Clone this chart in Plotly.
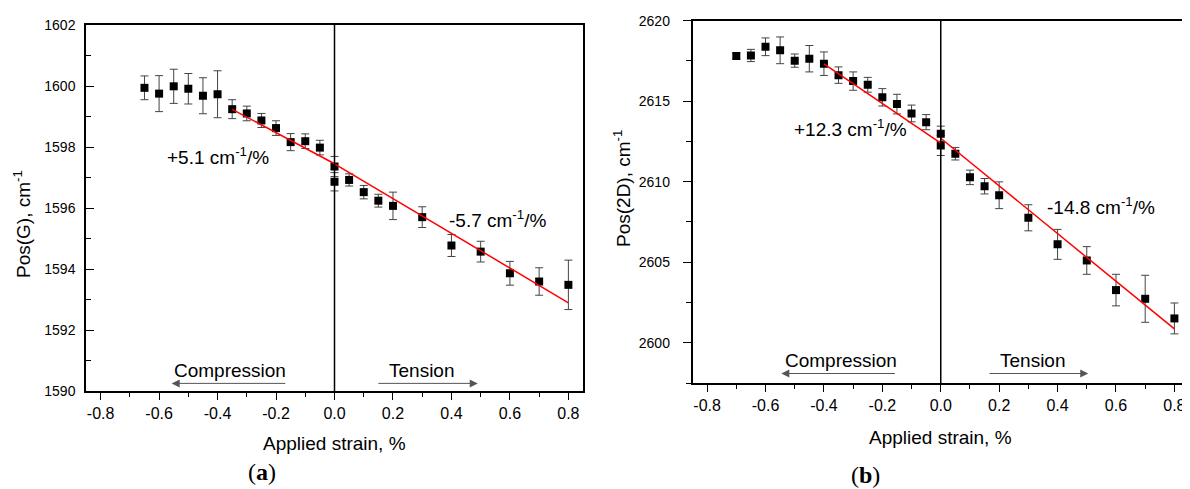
import plotly.graph_objects as go

# ---------------- data ----------------
strain_G = [-0.65, -0.60, -0.55, -0.50, -0.45, -0.40, -0.35, -0.30, -0.25, -0.20,
            -0.15, -0.10, -0.05, 0.0, 0.0, 0.05, 0.10, 0.15, 0.20, 0.30,
            0.40, 0.50, 0.60, 0.70, 0.80]
pos_G = [1599.94, 1599.75, 1599.99, 1599.91, 1599.68, 1599.73, 1599.24, 1599.10, 1598.87, 1598.62,
         1598.16, 1598.19, 1597.98, 1597.36, 1596.86, 1596.92, 1596.52, 1596.24, 1596.07, 1595.70,
         1594.77, 1594.57, 1593.86, 1593.59, 1593.48]
err_G = [0.39, 0.59, 0.56, 0.50, 0.59, 0.77, 0.31, 0.24, 0.23, 0.24,
         0.28, 0.24, 0.24, 0.33, 0.30, 0.20, 0.22, 0.21, 0.45, 0.34,
         0.36, 0.34, 0.39, 0.45, 0.81]

strain_2D = [-0.70, -0.65, -0.60, -0.55, -0.50, -0.45, -0.40, -0.35, -0.30, -0.25,
             -0.20, -0.15, -0.10, -0.05, 0.0, 0.0, 0.05, 0.10, 0.15, 0.20,
             0.30, 0.40, 0.50, 0.60, 0.70, 0.80]
pos_2D = [2617.80, 2617.84, 2618.38, 2618.16, 2617.52, 2617.64, 2617.33, 2616.62, 2616.25, 2616.02,
          2615.24, 2614.82, 2614.24, 2613.70, 2612.98, 2612.25, 2611.74, 2610.27, 2609.72, 2609.16,
          2607.76, 2606.11, 2605.11, 2603.27, 2602.73, 2601.51]
err_2D = [0.20, 0.38, 0.55, 0.83, 0.41, 0.82, 0.73, 0.51, 0.57, 0.46,
          0.54, 0.61, 0.52, 0.47, 0.47, 0.62, 0.39, 0.45, 0.48, 0.83,
          0.81, 0.93, 0.86, 0.98, 1.46, 0.96]

# linear fits: (x start, x end, intercept, slope)
fits_G = [(-0.35, 0.0, 1597.45, -5.1), (0.0, 0.80, 1597.45, -5.7)]
fits_2D = [(-0.40, 0.0, 2612.40, -12.3), (0.0, 0.80, 2612.70, -14.8)]
slope_labels_G = ["+5.1 cm<sup>-1</sup>/%", "-5.7 cm<sup>-1</sup>/%"]
slope_labels_2D = ["+12.3 cm<sup>-1</sup>/%", "-14.8 cm<sup>-1</sup>/%"]

xtick_vals = [-0.8, -0.6, -0.4, -0.2, 0.0, 0.2, 0.4, 0.6, 0.8]
xtick_text = ["-0.8", "-0.6", "-0.4", "-0.2", "0.0", "0.2", "0.4", "0.6", "0.8"]

FONT = "Liberation Sans, Arial, sans-serif"
SERIF = "Liberation Serif, Times New Roman, serif"
W, H = 1190, 489
OFF = 8  # page body margin offset compensation (px)


def px(v):
    return (v - OFF) / W


def py(v):
    return 1 - (v - OFF) / H


fig = go.Figure()


def add_panel(xs, ys, errs, fits, xa, ya):
    fig.add_trace(go.Scatter(
        x=xs, y=ys, mode="markers", xaxis=xa, yaxis=ya, showlegend=False,
        marker=dict(symbol="square", size=8, color="black"),
        error_y=dict(type="data", array=errs, visible=True, color="#444444",
                     thickness=1, width=4)))
    for x0, x1, b, m in fits:
        fig.add_trace(go.Scatter(
            x=[x0, x1], y=[b + m * x0, b + m * x1], mode="lines",
            xaxis=xa, yaxis=ya, showlegend=False,
            line=dict(color="#ff0000", width=1.5)))


add_panel(strain_G, pos_G, err_G, fits_G, "x", "y")
add_panel(strain_2D, pos_2D, err_2D, fits_2D, "x2", "y2")

xcommon = dict(range=[-0.85, 0.85], tickvals=xtick_vals, ticktext=xtick_text,
               ticks="outside", ticklen=7, tickwidth=1, tickcolor="black",
               minor=dict(dtick=0.1, ticks="outside", ticklen=4, tickcolor="black"),
               showline=True, mirror=True, linecolor="black", linewidth=1.5,
               showgrid=False, zeroline=False, automargin=False,
               tickfont=dict(family=FONT, size=16, color="black"))

fig.update_layout(
    width=W, height=H, autosize=False,
    margin=dict(l=0, r=0, t=0, b=0, pad=0, autoexpand=False),
    showlegend=False,
    paper_bgcolor="white", plot_bgcolor="white",
    font=dict(family=FONT, color="black"),
    xaxis=dict(domain=[px(86), px(583)], anchor="y", **xcommon),
    xaxis2=dict(domain=[px(692.5), px(1189)], anchor="y2", **xcommon),
    yaxis=dict(domain=[py(391), py(25)], anchor="x", range=[1590, 1602],
               dtick=2, ticks="inside", ticklen=8, tickwidth=1, tickcolor="black",
               minor=dict(dtick=1, ticks="inside", ticklen=5, tickcolor="black"),
               showline=True, mirror=True, linecolor="black", linewidth=1.5,
               showgrid=False, zeroline=False, ticklabelstandoff=6, automargin=False,
               tickfont=dict(family=FONT, size=14, color="black")),
    yaxis2=dict(domain=[py(383), py(20.7)], anchor="x2", range=[2597.5, 2620],
                dtick=5, ticks="outside", ticklen=8, tickwidth=1, tickcolor="black",
                minor=dict(dtick=2.5, ticks="outside", ticklen=5, tickcolor="black"),
                showline=True, mirror=True, linecolor="black", linewidth=1.5,
                showgrid=False, zeroline=False, ticklabelstandoff=10, automargin=False,
                tickfont=dict(family=FONT, size=14, color="black")),
)

# vertical lines at zero strain
for xr, yr in [("x", "y domain"), ("x2", "y2 domain")]:
    fig.add_shape(type="line", xref=xr, yref=yr, x0=0, x1=0, y0=0, y1=1,
                  line=dict(color="black", width=1.5))

ann = []
# slope labels
ann += [dict(xref="x", yref="y", x=-0.40, y=1597.7, text=slope_labels_G[0]),
        dict(xref="x", yref="y", x=0.556, y=1595.63, text=slope_labels_G[1]),
        dict(xref="x2", yref="y2", x=-0.31, y=2613.35, text=slope_labels_2D[0]),
        dict(xref="x2", yref="y2", x=0.55, y=2608.5, text=slope_labels_2D[1])]
for a in ann:
    a.update(showarrow=False, xanchor="center", yanchor="middle",
             font=dict(family=FONT, size=19, color="black"))

# compression / tension labels
lab = [("x", "y", -0.357, 1590.68, "Compression"), ("x", "y", 0.30, 1590.68, "Tension"),
       ("x2", "y2", -0.343, 2598.9, "Compression"), ("x2", "y2", 0.316, 2598.9, "Tension")]
for xr, yr, xv, yv, t in lab:
    ann.append(dict(xref=xr, yref=yr, x=xv, y=yv, text=t, showarrow=False,
                    xanchor="center", yanchor="middle",
                    font=dict(family=FONT, size=19, color="black")))

arrows = [("x", "y", -0.163, -0.557, 1590.25), ("x", "y", 0.145, 0.49, 1590.25),
          ("x2", "y2", -0.152, -0.546, 2598.09), ("x2", "y2", 0.162, 0.505, 2598.09)]
for xr, yr, tail, head, yv in arrows:
    ann.append(dict(xref=xr, yref=yr, axref=xr, ayref=yr, x=head, y=yv, ax=tail, ay=yv,
                    text="", showarrow=True, arrowhead=2, arrowsize=1.6, arrowwidth=1,
                    arrowcolor="#555555", standoff=0, startstandoff=0))

# axis titles and panel labels
paper_text = [
    (334, 443, "Applied strain, %", 0, FONT, 19),
    (940, 437, "Applied strain, %", 0, FONT, 19),
    (22, 224, "Pos(G), cm<sup>-1</sup>", -90, FONT, 19),
    (622, 189, "Pos(2D), cm<sup>-1</sup>", -90, FONT, 19),
    (262, 472, "(<b>a</b>)", 0, SERIF, 24),
    (865, 475, "(<b>b</b>)", 0, SERIF, 24),
]
for xv, yv, t, ang, fam, sz in paper_text:
    ann.append(dict(xref="paper", yref="paper", x=px(xv), y=py(yv), text=t, textangle=ang,
                    xanchor="center", yanchor="middle", showarrow=False,
                    font=dict(family=fam, size=sz, color="black")))
fig.update_layout(annotations=ann)

fig.write_html("out.html")
